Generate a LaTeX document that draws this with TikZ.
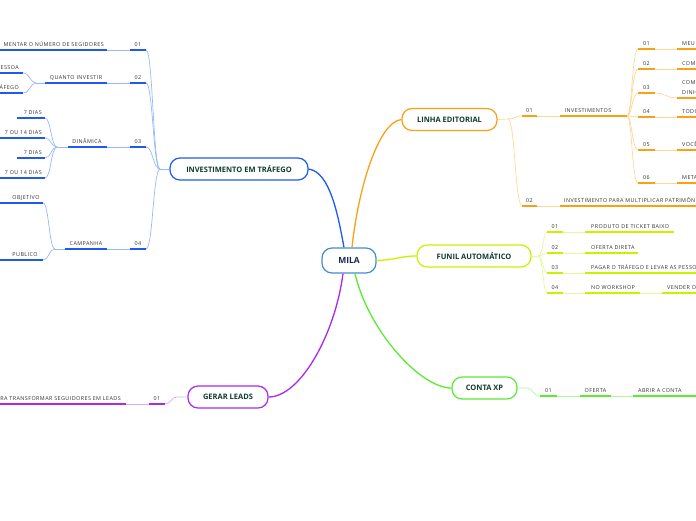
\documentclass[tikz,border=0pt]{standalone}
\usepackage{fontspec}
\setmainfont{Open Sans}
\newfontfamily\leaffont[LetterSpace=8]{Open Sans}
\usetikzlibrary{positioning}
\definecolor{bluestrong}{RGB}{30,90,240}
\definecolor{bluelight}{RGB}{150,185,250}
\definecolor{orgstrong}{RGB}{250,160,20}
\definecolor{orglight}{RGB}{255,215,150}
\definecolor{limestrong}{RGB}{205,240,0}
\definecolor{limelight}{RGB}{228,250,150}
\definecolor{grnstrong}{RGB}{90,235,50}
\definecolor{grnlight}{RGB}{180,245,165}
\definecolor{purstrong}{RGB}{170,40,240}
\definecolor{purlight}{RGB}{220,170,250}
\definecolor{milablue}{RGB}{70,140,210}
\definecolor{milanavy}{RGB}{25,40,75}
\definecolor{titlegreen}{RGB}{15,60,45}
\definecolor{txtgray}{RGB}{50,50,50}
\tikzset{
  topic/.style={rectangle, rounded corners=10pt, fill=white, line width=1.2pt,
    minimum height=22pt, inner sep=0pt, text=titlegreen,
    font=\fontsize{7.5}{9}\selectfont\bfseries},
  leaf/.style={anchor=base, inner sep=0pt, text=txtgray,
    font=\leaffont\fontsize{5.4}{6}\selectfont},
  ul/.style={line width=1.4pt},
  lk/.style={line width=0.7pt},
  trunk/.style={line width=1.3pt}
}

\begin{document}
\begin{tikzpicture}[x=1pt, y=-1pt]
  \useasboundingbox (0,0) rectangle (696,520);
  \clip (0,0) rectangle (696,520);

  % Central topic and main branches
  \node[topic, draw=milablue, minimum width=54pt, minimum height=25pt, text=milanavy,
        font=\fontsize{8.5}{10}\selectfont\bfseries] (mila) at (349,260.5) {MILA};
  \node[topic, draw=bluestrong, minimum width=138pt] (inv) at (239,169) {INVESTIMENTO EM TRÁFEGO};
  \node[topic, draw=orgstrong, minimum width=95pt] (linha) at (449.5,119.5) {LINHA EDITORIAL};
  \node[topic, draw=limestrong, minimum width=114pt] (funil) at (474,256) {FUNIL AUTOMÁTICO};
  \node[topic, draw=grnstrong, minimum width=65pt] (conta) at (484.5,388) {CONTA XP};
  \node[topic, draw=purstrong, minimum width=80pt] (gerar) at (228,397) {GERAR LEADS};

  \draw[trunk, bluestrong] ([xshift=-5pt]mila.north) .. controls (338,215) and (330,172) .. (inv.east);
  \draw[trunk, orgstrong] ([xshift=3pt]mila.north) .. controls (358,190) and (378,122) .. (linha.west);
  \draw[trunk, limestrong] (mila.east) .. controls (395,260) and (400,256) .. (funil.west);
  \draw[trunk, grnstrong] ([xshift=6pt]mila.south) .. controls (368,330) and (420,388) .. (conta.west);
  \draw[trunk, purstrong] ([xshift=-6pt]mila.south) .. controls (335,335) and (300,397) .. (gerar.east);

  % Investimento em trafego (left)
  \coordinate (invfork) at (160,169);
  \draw[lk, bluelight] (inv.west) -- (invfork);
  \foreach \y/\n in {50/01, 83/02, 147/03, 249/04} {
    \coordinate (inv\n) at (146,\y);
    \draw[lk, bluelight] (invfork) .. controls (153,169) and (153,\y) .. (inv\n);
    \draw[ul, bluestrong] (130,\y) -- (inv\n);
    \draw[lk, bluelight] (107,\y) -- (130,\y);
    \node[leaf] (invnum\n) at (138,\y-4) {\n};
  }
  \node[leaf, anchor=base east] (seguidores) at (104,46) {MENTAR O NÚMERO DE SEGIDORES};
  \draw[ul, bluestrong] (0,50) -- (107,50);

  \node[leaf] (quanto) at (76,79) {QUANTO INVESTIR};
  \draw[ul, bluestrong] (45,83) -- (107,83);
  \coordinate (quantofork) at (36,83);
  \draw[lk, bluelight] (quantofork) -- (45,83);
  \foreach \y/\t in {73/ESSOA, 93/ÁFEGO} {
    \coordinate (q\y) at (23,\y);
    \draw[lk, bluelight] (quantofork) .. controls (30,83) and (30,\y) .. (q\y);
    \draw[ul, bluestrong] (0,\y) -- (q\y);
    \node[leaf, anchor=base east] (qt\y) at (19,\y-4) {\t};
  }

  \node[leaf] (dinamica) at (87,143) {DINÂMICA};
  \draw[ul, bluestrong] (68,147) -- (107,147);
  \coordinate (dinfork) at (57,147);
  \draw[lk, bluelight] (dinfork) -- (68,147);
  \foreach \y/\x/\t in {118/17/7 DIAS, 138/0/7 OU 14 DIAS, 158/17/7 DIAS, 178/0/7 OU 14 DIAS} {
    \coordinate (d\y) at (45,\y);
    \draw[lk, bluelight] (dinfork) .. controls (51,147) and (51,\y) .. (d\y);
    \draw[ul, bluestrong] (\x,\y) -- (d\y);
    \node[leaf, anchor=base east] (dt\y) at (42,\y-4) {\t};
  }

  \node[leaf] (campanha) at (86,245) {CAMPANHA};
  \draw[ul, bluestrong] (65,249) -- (107,249);
  \coordinate (campfork) at (55,249);
  \draw[lk, bluelight] (campfork) -- (65,249);
  \foreach \y/\t/\c in {203/OBJETIVO/26, 260/PUBLICO/25} {
    \coordinate (c\y) at (43,\y);
    \draw[lk, bluelight] (campfork) .. controls (49,249) and (49,\y) .. (c\y);
    \draw[ul, bluestrong] (0,\y) -- (c\y);
    \node[leaf] (ct\y) at (\c,\y-4) {\t};
  }

  % Linha editorial (right, top)
  \coordinate (linfork) at (508,119);
  \draw[lk, orglight] (linha.east) -- (linfork);
  \foreach \y/\n in {116/01, 206/02} {
    \coordinate (lin\n) at (522,\y);
    \draw[lk, orglight] (linfork) .. controls (515,119) and (515,\y) .. (lin\n);
    \draw[ul, orgstrong] (lin\n) -- (537,\y);
    \draw[lk, orglight] (537,\y) -- (560,\y);
    \node[leaf] (linnum\n) at (529.5,\y-4) {\n};
  }
  \node[leaf] (investimentos) at (588,112) {INVESTIMENTOS};
  \draw[ul, orgstrong] (560,116) -- (627,116);
  \node[leaf, anchor=base west] (patrimonio) at (564,202) {INVESTIMENTO PARA MULTIPLICAR PATRIMÔN};
  \draw[ul, orgstrong] (560,206) -- (696,206);

  \coordinate (invsfork) at (627,116);
  \foreach \y/\n/\t in {49/01/MEU, 69/02/COM, 117/04/TODO, 150/05/VOCÊ, 183/06/META} {
    \coordinate (s\n) at (638,\y);
    \draw[lk, orglight] (invsfork) .. controls (632,116) and (632,\y) .. (s\n);
    \draw[ul, orgstrong] (s\n) -- (655,\y);
    \draw[lk, orglight] (655,\y) -- (677,\y);
    \draw[ul, orgstrong] (677,\y) -- (696,\y);
    \node[leaf] (snum\n) at (646.5,\y-4) {\n};
    \node[leaf, anchor=base west] (stxt\n) at (682,\y-4) {\t};
  }
  \coordinate (s03) at (638,93);
  \draw[lk, orglight] (invsfork) .. controls (632,116) and (632,93) .. (s03);
  \draw[ul, orgstrong] (s03) -- (655,93);
  \draw[lk, orglight] (655,93) .. controls (666,93) and (666,98) .. (677,98);
  \draw[ul, orgstrong] (677,98) -- (696,98);
  \node[leaf] (snum03) at (646.5,89) {03};
  \node[leaf, anchor=base west] (stxt03a) at (682,84.5) {COM};
  \node[leaf, anchor=base west] (stxt03b) at (682,94) {DINH};

  % Funil automatico
  \coordinate (funfork) at (538,256);
  \draw[lk, limelight] (funil.east) -- (funfork);
  \foreach \y/\n/\e/\t in {232/01/674/PRODUTO DE TICKET BAIXO, 253/02/638/OFERTA DIRETA,
                           273/03/696/PAGAR O TRÁFEGO E LEVAR AS PESSO, 293/04/640/NO WORKSHOP} {
    \coordinate (f\n) at (547,\y);
    \draw[lk, limelight] (funfork) .. controls (543,256) and (543,\y) .. (f\n);
    \draw[ul, limestrong] (f\n) -- (563,\y);
    \draw[lk, limelight] (563,\y) -- (585,\y);
    \draw[ul, limestrong] (585,\y) -- (\e,\y);
    \node[leaf] (fnum\n) at (555,\y-4) {\n};
    \node[leaf, anchor=base west] (ftxt\n) at (591,\y-4) {\t};
  }
  \draw[lk, limelight] (640,293) -- (662,293);
  \draw[ul, limestrong] (662,293) -- (696,293);
  \node[leaf, anchor=base west] (vender) at (667,289) {VENDER O};

  % Conta XP
  \coordinate (conta01) at (540,396);
  \draw[lk, grnlight] (conta.east) -- (527,388) .. controls (533,388) and (533,396) .. (conta01);
  \draw[ul, grnstrong] (conta01) -- (557,396);
  \draw[lk, grnlight] (557,396) -- (580,396);
  \draw[ul, grnstrong] (580,396) -- (611,396);
  \draw[lk, grnlight] (611,396) -- (633,396);
  \draw[ul, grnstrong] (633,396) -- (696,396);
  \node[leaf] (contanum) at (548.5,392) {01};
  \node[leaf] (oferta) at (595.5,392) {OFERTA};
  \node[leaf, anchor=base west] (abrir) at (638,392) {ABRIR A CONTA};

  % Gerar leads
  \coordinate (gerar01) at (165,404);
  \draw[lk, purlight] (gerar.west) -- (177,397) .. controls (171,397) and (171,404) .. (gerar01);
  \draw[ul, purstrong] (149,404) -- (gerar01);
  \draw[lk, purlight] (126,404) -- (149,404);
  \draw[ul, purstrong] (0,404) -- (126,404);
  \node[leaf] (gerarnum) at (157,400) {01};
  \node[leaf, anchor=base east] (leads) at (121,400) {RA TRANSFORMAR SEGUIDORES EM LEADS};
\end{tikzpicture}
\end{document}
